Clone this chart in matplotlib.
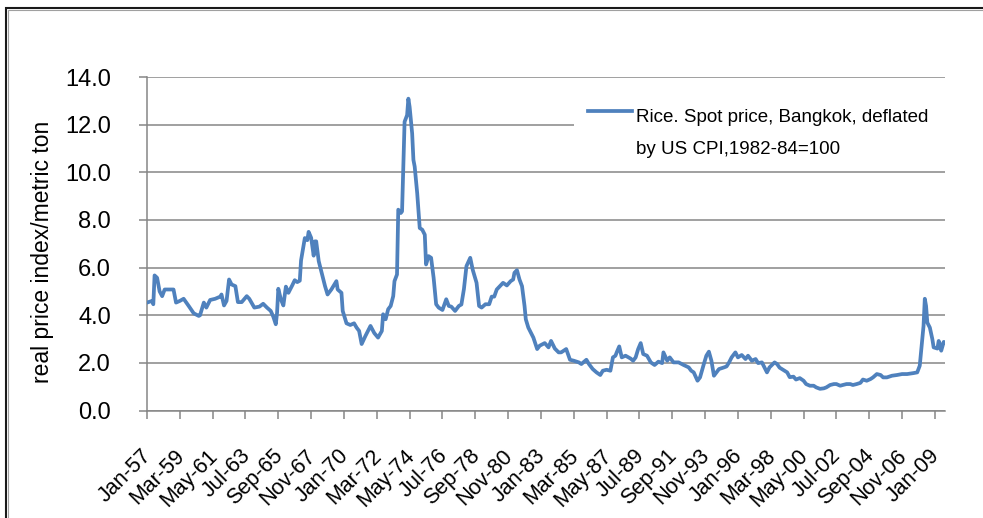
import matplotlib
matplotlib.use("Agg")
import matplotlib.pyplot as plt
from matplotlib.patches import Rectangle
from matplotlib.lines import Line2D
import matplotlib.transforms as mtransforms

plt.rcParams['font.family'] = ['Liberation Sans', 'DejaVu Sans']

# months since Jan-1957
month_idx = [
    0, 4, 5, 6, 8, 10, 12, 14, 18, 21,
    23, 26, 29, 33, 37, 41, 42, 45, 47, 50,
    54, 58, 59, 61, 63, 65, 67, 70, 72, 75,
    79, 81, 85, 89, 92, 95, 98, 100, 102, 103,
    104, 106, 108, 110, 112, 115, 117, 119, 121, 122,
    125, 127, 128, 130, 132, 133, 134, 136, 138, 141,
    143, 146, 150, 151, 154, 155, 158, 161, 164, 166,
    168, 170, 173, 177, 180, 183, 186, 187, 189, 191,
    193, 195, 196, 198, 199, 201, 202, 204, 206, 207,
    208, 210, 211, 212, 214, 216, 218, 220, 221, 223,
    225, 227, 229, 231, 234, 237, 239, 241, 244, 247,
    249, 251, 253, 256, 258, 261, 263, 265, 268, 271,
    273, 275, 277, 280, 282, 285, 288, 290, 291, 293,
    295, 297, 299, 300, 302, 304, 306, 309, 311, 315,
    318, 320, 323, 326, 328, 332, 335, 338, 342, 344,
    348, 350, 353, 356, 359, 361, 364, 367, 369, 371,
    372, 374, 376, 379, 383, 385, 387, 389, 391, 393,
    396, 399, 402, 405, 408, 409, 412, 414, 417, 421,
    425, 429, 431, 433, 436, 438, 441, 443, 445, 447,
    449, 451, 453, 457, 459, 461, 463, 466, 468, 471,
    474, 476, 479, 482, 484, 487, 491, 493, 497, 499,
    501, 504, 507, 509, 512, 514, 517, 520, 522, 525,
    528, 530, 533, 536, 538, 541, 544, 546, 549, 551,
    554, 557, 559, 562, 565, 567, 570, 573, 575, 578,
    581, 583, 586, 590, 594, 598, 602, 607, 610, 612,
    613, 615, 616, 617, 618, 620, 622, 623, 626, 627,
    628, 629, 631, 632,
]

rice_price = [
    4.53, 4.60, 4.46, 5.67, 5.57, 5.00, 4.80, 5.08, 5.08, 5.08,
    4.53, 4.60, 4.69, 4.39, 4.08, 3.97, 4.00, 4.53, 4.32, 4.64,
    4.69, 4.78, 4.87, 4.41, 4.60, 5.50, 5.29, 5.22, 4.55, 4.55,
    4.80, 4.69, 4.32, 4.36, 4.48, 4.32, 4.18, 3.94, 3.62, 4.10,
    5.11, 4.67, 4.41, 5.20, 4.94, 5.25, 5.47, 5.39, 5.45, 6.30,
    7.24, 7.15, 7.50, 7.25, 6.50, 7.10, 7.10, 6.27, 5.85, 5.22,
    4.87, 5.08, 5.43, 5.08, 4.94, 4.18, 3.66, 3.59, 3.66, 3.48,
    3.34, 2.79, 3.13, 3.55, 3.25, 3.06, 3.34, 4.04, 3.83, 4.25,
    4.39, 4.80, 5.43, 5.71, 8.43, 8.29, 8.36, 12.12, 12.40, 13.09,
    12.74, 11.63, 10.52, 10.24, 9.12, 7.66, 7.59, 7.38, 6.13, 6.48,
    6.41, 5.57, 4.46, 4.32, 4.22, 4.67, 4.39, 4.36, 4.18, 4.39,
    4.45, 5.10, 6.06, 6.41, 5.90, 5.36, 4.39, 4.32, 4.46, 4.46,
    4.78, 4.78, 5.08, 5.25, 5.36, 5.25, 5.43, 5.50, 5.78, 5.89,
    5.50, 5.22, 4.39, 3.83, 3.48, 3.27, 3.06, 2.58, 2.72, 2.83,
    2.65, 2.92, 2.60, 2.44, 2.44, 2.58, 2.13, 2.09, 2.02, 1.95,
    2.13, 1.95, 1.74, 1.60, 1.49, 1.67, 1.71, 1.67, 2.23, 2.30,
    2.44, 2.69, 2.23, 2.30, 2.18, 2.09, 2.23, 2.58, 2.83, 2.37,
    2.30, 2.02, 1.91, 2.05, 1.99, 2.44, 2.09, 2.23, 2.02, 2.02,
    1.91, 1.81, 1.67, 1.60, 1.25, 1.39, 1.95, 2.30, 2.47, 2.09,
    1.46, 1.60, 1.74, 1.81, 1.85, 2.02, 2.23, 2.44, 2.23, 2.33,
    2.16, 2.30, 2.09, 2.16, 1.99, 2.02, 1.60, 1.81, 2.02, 1.95,
    1.80, 1.70, 1.60, 1.40, 1.42, 1.30, 1.36, 1.25, 1.11, 1.04,
    1.04, 0.97, 0.91, 0.93, 0.97, 1.07, 1.11, 1.11, 1.04, 1.07,
    1.11, 1.11, 1.07, 1.11, 1.16, 1.30, 1.25, 1.32, 1.39, 1.53,
    1.49, 1.39, 1.39, 1.46, 1.49, 1.53, 1.53, 1.57, 1.60, 1.88,
    2.44, 3.55, 4.69, 4.39, 3.69, 3.48, 2.99, 2.65, 2.60, 2.92,
    2.79, 2.51, 2.88, 2.86,
]

tick_months = list(range(0, 625, 26))
tick_labels = [
    "Jan-57", "Mar-59", "May-61", "Jul-63", "Sep-65", "Nov-67", "Jan-70",
    "Mar-72", "May-74", "Jul-76", "Sep-78", "Nov-80", "Jan-83", "Mar-85",
    "May-87", "Jul-89", "Sep-91", "Nov-93", "Jan-96", "Mar-98", "May-00",
    "Jul-02", "Sep-04", "Nov-06", "Jan-09",
]
y_ticks = [0, 2, 4, 6, 8, 10, 12, 14]
legend_lines = ["Rice. Spot price, Bangkok, deflated", "by US CPI,1982-84=100"]
y_label = "real price index/metric ton"

assert len(month_idx) == len(rice_price)

W, H = 983, 518
fig = plt.figure(figsize=(W / 100, H / 100), dpi=100)
fig.patch.set_facecolor("white")

def fx(px):
    return px / W

def fy(py):
    return 1 - py / H

ax = fig.add_axes([fx(147), fy(410.5), fx(945) - fx(147), fy(77) - fy(410.5)])

grid_c = "#868686"
line_c = "#4F81BD"

ax.plot(month_idx, rice_price, color=line_c, lw=2.7, solid_joinstyle="round", zorder=3)

ax.set_xlim(0, 632)
ax.set_ylim(0, 14)
ax.set_yticks(y_ticks)
ax.set_yticklabels([f"{v:.1f}" for v in y_ticks])
ax.set_xticks(tick_months)
ax.set_xticklabels(tick_labels, rotation=45, ha="right")

ax.yaxis.grid(True, color=grid_c, lw=1.1)
ax.set_axisbelow(True)
for s in ["top", "right"]:
    ax.spines[s].set_visible(False)
for s in ["left", "bottom"]:
    ax.spines[s].set_color(grid_c)
    ax.spines[s].set_linewidth(1.1)

ax.tick_params(axis="y", direction="out", length=6, width=1.1, color=grid_c,
               pad=20, labelsize=17)
ax.tick_params(axis="x", direction="out", length=6, width=1.1, color=grid_c,
               pad=19, labelsize=15.5)
offset = mtransforms.ScaledTranslation(9 / 100, 0, fig.dpi_scale_trans)
for lab in ax.get_xticklabels():
    lab.set_transform(lab.get_transform() + offset)

fig.text(fx(42.5), fy(252), y_label, rotation=90, ha="center", va="center",
         fontsize=16.5)

# legend (white box over gridlines)
ax.add_patch(Rectangle((fx(574), fy(166)), fx(946) - fx(574), fy(94) - fy(166),
                       transform=fig.transFigure, facecolor="white",
                       edgecolor="none", zorder=2, clip_on=False))
fig.add_artist(Line2D([fx(588), fx(632)], [fy(111), fy(111)], color=line_c,
                      lw=2.7, transform=fig.transFigure))
fig.text(fx(636), fy(121.5), legend_lines[0], ha="left", va="baseline", fontsize=13.5)
fig.text(fx(636), fy(154), legend_lines[1], ha="left", va="baseline", fontsize=13.5)

# outer chart frame
fig.add_artist(Rectangle((fx(6), -0.1), 2, fy(8) + 0.1, transform=fig.transFigure,
                         fill=False, edgecolor="#1a1a1a", lw=1.5))
fig.add_artist(Rectangle((fx(8), -0.1), 2, fy(9.8) + 0.1, transform=fig.transFigure,
                         fill=False, edgecolor="#a0a0a0", lw=0.8))

fig.savefig("out.png", dpi=100, facecolor="white")
